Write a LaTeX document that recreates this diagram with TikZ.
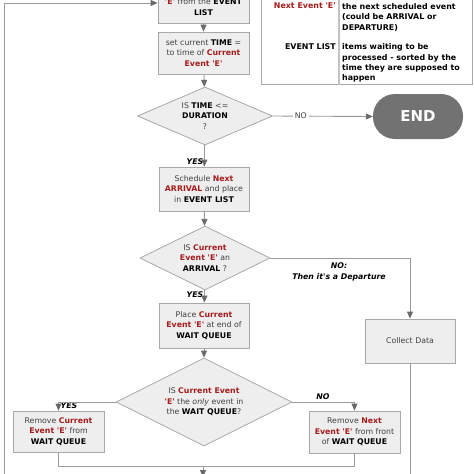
\documentclass[tikz,border=0pt]{standalone}
\usepackage{fontspec}
\setmainfont{DejaVu Sans}
\usetikzlibrary{shapes.geometric,arrows.meta}
\definecolor{redt}{HTML}{A51C1C}
\definecolor{txt}{HTML}{404040}
\definecolor{boxfill}{HTML}{EEEEEE}
\definecolor{boxline}{HTML}{A8A8A8}
\definecolor{linec}{HTML}{9A9A9A}
\definecolor{arrowc}{HTML}{6A6A6A}
\definecolor{endfill}{HTML}{727272}
\newcommand\rb[1]{\textcolor{redt}{\textbf{#1}}}
\newcommand\kb[1]{\textcolor{black}{\textbf{#1}}}
\newcommand\sq{\textquotesingle}
\begin{document}
\begin{tikzpicture}[x=1pt,y=-1pt,
  font=\fontsize{7.8}{10.4}\selectfont, text=txt,
  proc/.style={rectangle, draw=boxline, fill=boxfill, line width=0.8pt, align=center, inner sep=0pt},
  dec/.style={diamond, draw=boxline, fill=boxfill, line width=0.8pt, align=center, inner sep=0pt},
  conn/.style={draw=linec, line width=0.9pt},
  arr/.style={conn, -{Triangle[width=6pt,length=7pt,fill=arrowc,color=arrowc]}},
  lbl/.style={font=\fontsize{7.8}{10.4}\selectfont\bfseries\itshape, text=black, inner sep=0pt},
  endbox/.style={rectangle, rounded corners=22pt, fill=endfill, text=white, minimum width=90, minimum height=45, font=\fontsize{15}{18}\selectfont\bfseries},
  legtxt/.style={font=\fontsize{7.9}{10.4}\selectfont\bfseries, text=black, inner sep=0pt}
]
\useasboundingbox (0,0) rectangle (474,474);

% legend
\node[draw=boxline, fill=white, line width=0.8pt, minimum width=211, minimum height=86, anchor=north west, inner sep=0pt] (legend) at (261,-2) {};
\draw[draw=boxline!70, line width=1.6pt] (legend.north -| 339,0) -- (legend.south -| 339,0);
\node[legtxt, anchor=north east, align=right] (k1) at (336,3) {\textcolor{redt}{Next Event \sq E\sq}};
\node[legtxt, anchor=north west, align=left] (v1) at (342,3) {the next scheduled event\\(could be ARRIVAL or\\DEPARTURE)};
\node[legtxt, anchor=north east, align=right] (k2) at (336,43.5) {EVENT LIST};
\node[legtxt, anchor=north west, align=left] (v2) at (342,43.5) {items waiting to be\\processed - sorted by the\\time they are supposed to\\happen};

% flow
\node[proc, minimum width=91, minimum height=32] (top) at (203.5,7) {\rb{\sq E\sq} from the \kb{EVENT}\\\kb{LIST}};
\node[proc, minimum width=91, minimum height=42] (set) at (203.5,53) {set current \kb{TIME} =\\to time of \rb{Current}\\\rb{Event \sq E\sq}};
\node[dec, minimum width=135, minimum height=58, aspect=2.3] (d1) at (205,116) {IS \kb{TIME} <=\\\kb{DURATION}\\?};
\node[endbox] (end) at (418,116.5) {END};
\node[proc, minimum width=90, minimum height=44] (sched) at (204,189) {Schedule \rb{Next}\\\rb{ARRIVAL} and place\\in \kb{EVENT LIST}};
\node[dec, minimum width=130, minimum height=64, aspect=2] (d2) at (205,258) {IS \rb{Current}\\\rb{Event \sq E\sq} an\\\kb{ARRIVAL} ?};
\node[proc, minimum width=90, minimum height=45] (place) at (204,325.5) {Place \rb{Current}\\\rb{Event \sq E\sq} at end of\\\kb{WAIT QUEUE}};
\node[dec, minimum width=176, minimum height=88, aspect=2] (d3) at (204,402) {IS \rb{Current Event}\\\rb{\sq E\sq} the \textit{only} event in\\the \kb{WAIT QUEUE}?};
\node[proc, minimum width=90, minimum height=44] (collect) at (410,341) {Collect Data};
\node[proc, minimum width=91, minimum height=41] (remc) at (58.5,431.5) {Remove \rb{Current}\\\rb{Event \sq E\sq} from\\\kb{WAIT QUEUE}};
\node[proc, minimum width=91, minimum height=42] (remn) at (354.5,432) {Remove \rb{Next}\\\rb{Event \sq E\sq} from front\\of \kb{WAIT QUEUE}};

% labels
\node[lbl] (yes1) at (195,162) {YES};
\node[lbl] (yes2) at (195,295) {YES};
\node[lbl, align=center] (nodep) at (339,272) {NO:\\Then it\sq s a Departure};
\node[lbl] (yes3) at (69,406) {YES};
\node[lbl] (no3) at (323,396.5) {NO};

% connectors
\coordinate (lb) at (4,478);
\coordinate (lt) at (4,3);
\draw[arr] (lb) -- (lt) -- (top.west |- lt);
\draw[arr] (top) -- (set);
\draw[arr] (set) -- (d1);
\draw[arr] (d1.east) -- node[pos=0.28, fill=white, inner sep=2pt, text=txt] (no1) {NO} (end.west);
\draw[arr] (d1) -- (sched);
\draw[arr] (sched) -- (d2);
\draw[arr] (d2.east) -| (collect.north);
\draw[arr] (d2) -- (place);
\draw[arr] (place) -- (d3);
\draw[arr] (d3.west) -| (remc.north);
\draw[arr] (d3.east) -| (remn.north);
\coordinate (j) at (203,466);
\coordinate (bot) at (203,477);
\draw[conn] (remc.south) |- (remn.south |- j) -- (remn.south);
\draw[arr] (j) -- (bot);
\coordinate (cbot) at (410,478);
\draw[conn] (collect.south) -- (cbot);
\end{tikzpicture}
\end{document}
